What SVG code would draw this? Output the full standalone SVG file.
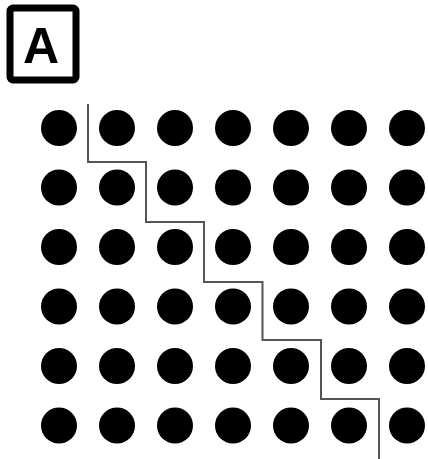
<svg xmlns="http://www.w3.org/2000/svg" width="428" height="459" viewBox="0 0 428 459">
<style>
.dot{fill:#000}
.stair{fill:none;stroke:#555;stroke-width:2}
.lbl{font-family:"Liberation Sans",Arial,sans-serif;font-weight:bold;font-size:50px;fill:#000}
</style>
<rect width="428" height="459" fill="#fff"/>
<g id="label-A">
<rect x="10" y="8" width="66" height="72" rx="3" fill="#fff" stroke="#000" stroke-width="7"/>
<text class="lbl" x="41" y="63" text-anchor="middle">A</text>
</g>
<g id="connectors">
<path class="stair" d="M88 104 V162 H146 V222 H204 V282 H262.5 V340 H321 V399 H379 V459"/>
</g>
<g id="dots">
<g id="row1"><circle class="dot" cx="59" cy="128" r="18"/><circle class="dot" cx="117" cy="128" r="18"/><circle class="dot" cx="175" cy="128" r="18"/><circle class="dot" cx="233" cy="128" r="18"/><circle class="dot" cx="291" cy="128" r="18"/><circle class="dot" cx="349" cy="128" r="18"/><circle class="dot" cx="407" cy="128" r="18"/></g>
<g id="row2"><circle class="dot" cx="59" cy="187.5" r="18"/><circle class="dot" cx="117" cy="187.5" r="18"/><circle class="dot" cx="175" cy="187.5" r="18"/><circle class="dot" cx="233" cy="187.5" r="18"/><circle class="dot" cx="291" cy="187.5" r="18"/><circle class="dot" cx="349" cy="187.5" r="18"/><circle class="dot" cx="407" cy="187.5" r="18"/></g>
<g id="row3"><circle class="dot" cx="59" cy="247" r="18"/><circle class="dot" cx="117" cy="247" r="18"/><circle class="dot" cx="175" cy="247" r="18"/><circle class="dot" cx="233" cy="247" r="18"/><circle class="dot" cx="291" cy="247" r="18"/><circle class="dot" cx="349" cy="247" r="18"/><circle class="dot" cx="407" cy="247" r="18"/></g>
<g id="row4"><circle class="dot" cx="59" cy="306.5" r="18"/><circle class="dot" cx="117" cy="306.5" r="18"/><circle class="dot" cx="175" cy="306.5" r="18"/><circle class="dot" cx="233" cy="306.5" r="18"/><circle class="dot" cx="291" cy="306.5" r="18"/><circle class="dot" cx="349" cy="306.5" r="18"/><circle class="dot" cx="407" cy="306.5" r="18"/></g>
<g id="row5"><circle class="dot" cx="59" cy="366" r="18"/><circle class="dot" cx="117" cy="366" r="18"/><circle class="dot" cx="175" cy="366" r="18"/><circle class="dot" cx="233" cy="366" r="18"/><circle class="dot" cx="291" cy="366" r="18"/><circle class="dot" cx="349" cy="366" r="18"/><circle class="dot" cx="407" cy="366" r="18"/></g>
<g id="row6"><circle class="dot" cx="59" cy="425.5" r="18"/><circle class="dot" cx="117" cy="425.5" r="18"/><circle class="dot" cx="175" cy="425.5" r="18"/><circle class="dot" cx="233" cy="425.5" r="18"/><circle class="dot" cx="291" cy="425.5" r="18"/><circle class="dot" cx="349" cy="425.5" r="18"/><circle class="dot" cx="407" cy="425.5" r="18"/></g>
</g>
</svg>
